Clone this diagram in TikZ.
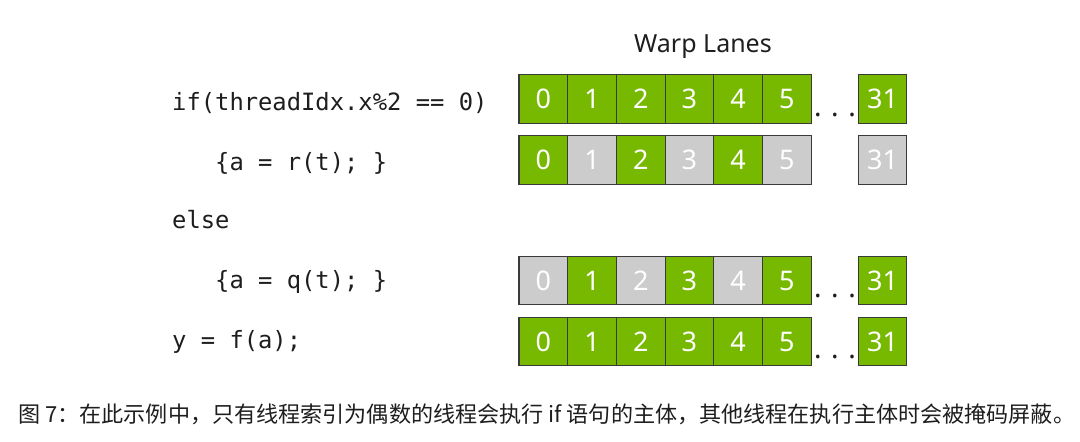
\documentclass[tikz,border=0pt]{standalone}
\usepackage{fontspec}
\setmainfont{Noto Sans}
\newfontfamily\codefont{DejaVu Sans Mono}
\newfontfamily\cjk{Noto Sans CJK SC}
\definecolor{nvgreen}{HTML}{76B900}
\definecolor{lanegray}{HTML}{CCCCCC}
\definecolor{edgegray}{HTML}{3A3A3A}
\definecolor{inkdark}{HTML}{1E1E1E}
\begin{document}
\begin{tikzpicture}[x=1pt,y=-1pt,
  lane/.style={draw=edgegray,line width=1.2pt,minimum width=48.7pt,minimum height=48.5pt,
    inner sep=0pt,text=white,font=\fontsize{27}{27}\selectfont,anchor=center},
  on/.style={lane,fill=nvgreen},
  off/.style={lane,fill=lanegray},
  codeline/.style={anchor=base west,inner sep=0pt,text=inkdark,font=\codefont\fontsize{23.8}{24}\selectfont},
  dots/.style={anchor=base,inner sep=0pt,text=inkdark,font=\fontsize{28}{28}\selectfont}]
\useasboundingbox (0,0) rectangle (1080,442);
\fill[white] (0,0) rectangle (1080,442);
% title
\node[anchor=center,inner sep=0pt,text=inkdark,font=\fontsize{25}{25}\selectfont] (title) at (703,47) {Warp Lanes};
% code
\node[codeline] (c1) at (172,110) {if(threadIdx.x\%2 == 0)};
\node[codeline] (c2) at (172,170) {\ \ \ \{a = r(t); \}};
\node[codeline] (c3) at (172,228) {else};
\node[codeline] (c4) at (172,288) {\ \ \ \{a = q(t); \}};
\node[codeline] (c5) at (172,348) {y = f(a);};
% rows
\foreach \r/\y/\pat in {1/99/{1,1,1,1,1,1,1},2/160/{1,0,1,0,1,0,0},3/280.5/{0,1,0,1,0,1,1},4/341.5/{1,1,1,1,1,1,1}}{
  \foreach \v [count=\i from 0] in \pat {
    \ifnum\i<6
      \pgfmathsetmacro\cx{519+48.7*(\i+0.5)}
      \ifnum\v=1 \node[on] (r\r c\i) at (\cx,\y) {\i};
      \else \node[off] (r\r c\i) at (\cx,\y) {\i}; \fi
    \else
      \ifnum\v=1 \node[on] (r\r c31) at (882.5,\y) {31};
      \else \node[off] (r\r c31) at (882.5,\y) {31}; \fi
    \fi
  }
}
\node[dots] (d1) at (835,116) {. . .};
\node[dots] (d3) at (835,297) {. . .};
\node[dots] (d4) at (835,358) {. . .};
% caption
\node[anchor=west,inner sep=0pt,text=inkdark,font=\cjk\fontsize{22.1}{23}\selectfont] (cap) at (18,414) {图 7：在此示例中，只有线程索引为偶数的线程会执行 if 语句的主体，其他线程在执行主体时会被掩码屏蔽。};
\end{tikzpicture}
\end{document}
